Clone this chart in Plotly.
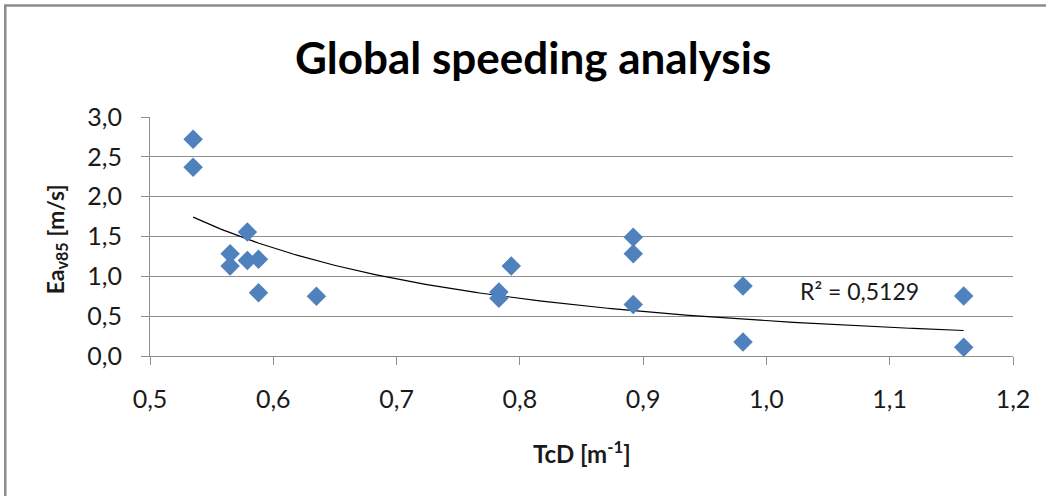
import numpy as np
import plotly.graph_objects as go

# Data
tcd = [0.535, 0.535, 0.565, 0.565, 0.579, 0.579, 0.588, 0.588, 0.635,
       0.783, 0.783, 0.793, 0.892, 0.892, 0.892, 0.981, 0.981, 1.160, 1.160]
ea_v85 = [2.72, 2.37, 1.285, 1.13, 1.556, 1.20, 1.213, 0.795, 0.749,
          0.803, 0.725, 1.13, 1.49, 1.285, 0.645, 0.878, 0.176, 0.753, 0.109]

# Power trendline y = a * x^b (coefficients)
trend_a = 0.443
trend_b = -2.19
r2_label = "R² = 0,5129"

title_text = "Global speeding analysis"
x_title = "TcD [m<sup>-1</sup>]"
y_title = "Ea<sub>v85</sub> [m/s]"

x_ticks = [0.5, 0.6, 0.7, 0.8, 0.9, 1.0, 1.1, 1.2]
y_ticks = [0.0, 0.5, 1.0, 1.5, 2.0, 2.5, 3.0]

FONT = "Lato"
GRID = "#8e8e8e"

trend_x = np.linspace(min(tcd), max(tcd), 200)
trend_y = trend_a * trend_x ** trend_b

fig = go.Figure()
fig.add_trace(go.Scatter(
    x=trend_x, y=trend_y, mode="lines",
    line=dict(color="black", width=1.2), hoverinfo="skip", showlegend=False))
fig.add_trace(go.Scatter(
    x=tcd, y=ea_v85, mode="markers",
    marker=dict(symbol="diamond", size=15, color="#4F81BD", line=dict(width=0)),
    showlegend=False))

fig.update_layout(
    width=1046, height=496,
    margin=dict(l=150, r=33, t=117, b=140),
    paper_bgcolor="white", plot_bgcolor="white",
    separators=",.",
    font=dict(family=FONT, color="#1a1a1a", size=16),
    xaxis=dict(range=[0.5, 1.2], tickvals=x_ticks, tickformat=".1f",
               showgrid=False, zeroline=False, showline=True,
               linecolor=GRID, linewidth=1, ticks="outside", ticklen=8,
               tickcolor=GRID, tickfont=dict(size=25, family=FONT),
               ticklabelstandoff=13),
    yaxis=dict(range=[0, 3.0], tickvals=y_ticks, tickformat=".1f",
               showgrid=True, gridcolor=GRID, gridwidth=1, zeroline=False,
               showline=True, linecolor=GRID, linewidth=1, ticks="outside",
               ticklen=8, tickcolor=GRID, tickfont=dict(size=25, family=FONT),
               ticklabelstandoff=14),
    annotations=[
        dict(text=title_text, xref="paper", yref="paper", x=0.4438, y=1.25,
             xanchor="center", yanchor="middle", showarrow=False,
             font=dict(size=44, family=FONT, color="black", weight="bold")),
        dict(text=y_title, xref="paper", yref="paper", x=-0.1090, y=0.488,
             xanchor="center", yanchor="middle", textangle=-90, showarrow=False,
             font=dict(size=23, family=FONT, color="#1a1a1a", weight="bold")),
        dict(text=x_title, xref="paper", yref="paper", x=0.5, y=-0.4017,
             xanchor="center", yanchor="middle", showarrow=False,
             font=dict(size=24, family=FONT, color="#1a1a1a", weight="bold")),
        dict(text=r2_label, xref="x", yref="y", x=1.0754, y=0.812,
             xanchor="center", yanchor="middle", showarrow=False,
             font=dict(size=23, family=FONT, color="#1a1a1a")),
    ],
    shapes=[
        dict(type="rect", xref="paper", yref="paper",
             x0=-0.1677, x1=1.3, y0=-1.2, y1=1.4661,
             line=dict(color="#8c8c8c", width=2.5), fillcolor="rgba(0,0,0,0)",
             layer="below"),
    ],
)

fig.write_html("out.html", config={"displayModeBar": False},
               post_script="document.body.style.margin='0';")
